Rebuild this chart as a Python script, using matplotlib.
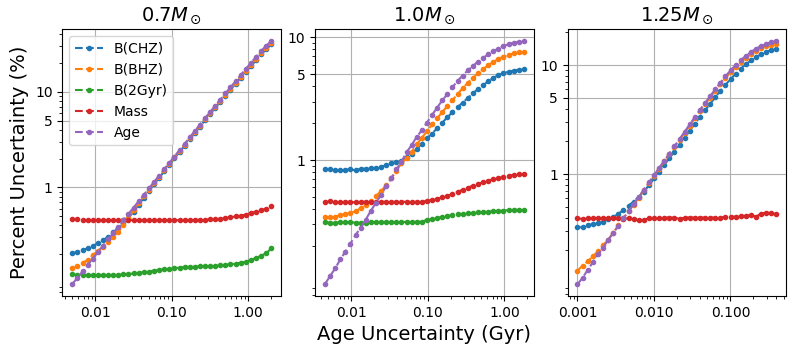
import matplotlib
matplotlib.use('Agg')
import matplotlib.pyplot as plt
from matplotlib.ticker import FixedLocator, FormatStrFormatter, NullFormatter

# ---------------- data ----------------
titles = [r'$0.7M_\odot$', r'$1.0M_\odot$', r'$1.25M_\odot$']
labels = ['B(CHZ)', 'B(BHZ)', 'B(2Gyr)', 'Mass', 'Age']
colors = ['#1f77b4', '#ff7f0e', '#2ca02c', '#d62728', '#9467bd']

# Panel 1 (0.7 Msun)
x1 = [0.005, 0.00583, 0.0068, 0.00793, 0.00925, 0.01078, 0.01257, 0.01466, 0.0171, 0.01994,
      0.02325, 0.02711, 0.03161, 0.03686, 0.04299, 0.05009, 0.05841, 0.06811, 0.07943, 0.09262,
      0.108, 0.126, 0.1469, 0.1713, 0.1997, 0.2329, 0.2716, 0.3167, 0.3693, 0.4306,
      0.5018, 0.5851, 0.6823, 0.7957, 0.9279, 1.082, 1.2617, 1.4713, 1.7157, 2.0]
chz1 = [0.204, 0.212, 0.221, 0.230, 0.245, 0.260, 0.281, 0.304, 0.338, 0.372,
        0.42, 0.48, 0.56, 0.66, 0.78, 0.92, 1.08, 1.26, 1.47, 1.72,
        2.01, 2.34, 2.73, 3.18, 3.71, 4.32, 5.03, 5.86, 6.8, 7.88,
        9.12, 10.55, 12.2, 14.1, 16.2, 18.6, 21.4, 24.6, 28.0, 31.3]
bhz1 = [0.142, 0.150, 0.163, 0.174, 0.196, 0.217, 0.239, 0.270, 0.304, 0.343,
        0.405, 0.48, 0.575, 0.685, 0.81, 0.95, 1.11, 1.30, 1.515, 1.765,
        2.06, 2.40, 2.80, 3.26, 3.80, 4.43, 5.16, 6.02, 6.98, 8.08,
        9.35, 10.8, 12.5, 14.45, 16.7, 19.2, 22.1, 25.4, 29.0, 32.6]
gyr1 = [0.124, 0.121, 0.121, 0.121, 0.121, 0.121, 0.121, 0.121, 0.122, 0.122,
        0.123, 0.124, 0.126, 0.128, 0.130, 0.132, 0.135, 0.137, 0.139, 0.141,
        0.143, 0.145, 0.147, 0.148, 0.148, 0.149, 0.149, 0.150, 0.151, 0.153,
        0.155, 0.157, 0.160, 0.163, 0.167, 0.174, 0.183, 0.193, 0.205, 0.230]
mass1 = [0.465, 0.462, 0.455, 0.455, 0.455, 0.456, 0.455, 0.455, 0.456, 0.455,
         0.455, 0.456, 0.455, 0.457, 0.455, 0.455, 0.457, 0.455, 0.455, 0.456,
         0.455, 0.455, 0.457, 0.456, 0.458, 0.458, 0.46, 0.462, 0.465, 0.47,
         0.478, 0.487, 0.497, 0.507, 0.52, 0.54, 0.56, 0.58, 0.60, 0.635]
age1 = [0.0975, 0.1137, 0.1326, 0.1546, 0.1803, 0.2102, 0.2452, 0.2859, 0.3334, 0.3888,
        0.4533, 0.5286, 0.6164, 0.7189, 0.8383, 0.9768, 1.139, 1.328, 1.549, 1.806,
        2.106, 2.456, 2.864, 3.34, 3.894, 4.541, 5.296, 6.175, 7.15, 8.30,
        9.62, 11.16, 12.95, 15.0, 17.4, 20.1, 23.2, 26.7, 30.5, 34.0]

# Panel 2 (1.0 Msun)
x2 = [0.0045, 0.005247, 0.006119, 0.007136, 0.008321, 0.009703, 0.011315, 0.013195, 0.015387, 0.017942,
      0.020923, 0.024399, 0.028452, 0.033178, 0.038689, 0.045081, 0.052565, 0.061299, 0.071487, 0.083358,
      0.097209, 0.11336, 0.13218, 0.15414, 0.17974, 0.2096, 0.24442, 0.28502, 0.33236, 0.38757,
      0.45162, 0.52659, 0.61407, 0.71609, 0.83507, 0.97376, 1.1355, 1.3241, 1.5441, 1.8]
chz2 = [0.845, 0.845, 0.825, 0.824, 0.835, 0.839, 0.825, 0.85, 0.852, 0.854,
        0.868, 0.885, 0.905, 0.945, 0.963, 0.99, 1.06, 1.13, 1.23, 1.36,
        1.50, 1.64, 1.82, 2.02, 2.23, 2.46, 2.70, 2.94, 3.2, 3.5,
        3.78, 4.07, 4.38, 4.67, 4.92, 5.1, 5.25, 5.36, 5.45, 5.48]
bhz2 = [0.341, 0.341, 0.345, 0.356, 0.363, 0.372, 0.384, 0.404, 0.43, 0.466,
        0.51, 0.56, 0.625, 0.71, 0.82, 0.94, 1.04, 1.17, 1.34, 1.52,
        1.72, 1.95, 2.19, 2.46, 2.76, 3.08, 3.45, 3.85, 4.26, 4.67,
        5.08, 5.5, 5.92, 6.3, 6.65, 6.95, 7.2, 7.4, 7.55, 7.6]
gyr2 = [0.312, 0.31, 0.308, 0.312, 0.312, 0.311, 0.31, 0.309, 0.308, 0.312,
        0.312, 0.312, 0.313, 0.312, 0.313, 0.313, 0.314, 0.314, 0.314, 0.315,
        0.326, 0.331, 0.337, 0.345, 0.351, 0.356, 0.361, 0.365, 0.369, 0.372,
        0.375, 0.378, 0.38, 0.383, 0.386, 0.388, 0.391, 0.393, 0.394, 0.394]
mass2 = [0.457, 0.46, 0.458, 0.452, 0.458, 0.457, 0.452, 0.457, 0.458, 0.455,
         0.456, 0.457, 0.457, 0.456, 0.458, 0.458, 0.457, 0.457, 0.457, 0.457,
         0.466, 0.474, 0.484, 0.497, 0.51, 0.53, 0.55, 0.575, 0.595, 0.62,
         0.64, 0.66, 0.68, 0.70, 0.715, 0.73, 0.745, 0.76, 0.765, 0.765]
age2 = [0.0976, 0.1134, 0.1309, 0.155, 0.179, 0.209, 0.245, 0.282, 0.328, 0.386,
        0.449, 0.519, 0.614, 0.709, 0.839, 0.97, 1.155, 1.325, 1.549, 1.75,
        2.02, 2.33, 2.68, 3.06, 3.45, 3.92, 4.42, 4.88, 5.37, 5.85,
        6.33, 6.8, 7.25, 7.7, 8.1, 8.5, 8.8, 9.05, 9.2, 9.25]

# Panel 3 (1.25 Msun) -- no B(2Gyr) curve
x3 = [0.001, 0.0011661, 0.0013598, 0.0015857, 0.0018491, 0.0021563, 0.0025145, 0.0029322, 0.0034193, 0.0039872,
      0.0046496, 0.0054219, 0.0063226, 0.0073729, 0.0085975, 0.010018, 0.011681, 0.013622, 0.015886, 0.018524,
      0.021602, 0.02519, 0.029374, 0.034253, 0.039943, 0.046578, 0.054315, 0.063337, 0.073858, 0.086127,
      0.10036, 0.11702, 0.13646, 0.15913, 0.18557, 0.21639, 0.25233, 0.29425, 0.34313, 0.4]
chz3 = [0.325, 0.326, 0.34, 0.347, 0.357, 0.366, 0.385, 0.405, 0.435, 0.465,
        0.515, 0.56, 0.62, 0.69, 0.79, 0.915, 1.055, 1.215, 1.40, 1.61,
        1.86, 2.16, 2.50, 2.9, 3.36, 3.85, 4.42, 5.07, 5.8, 6.6,
        7.45, 8.35, 9.3, 10.2, 11.05, 11.85, 12.6, 13.25, 13.8, 14.2]
bhz3 = [0.130, 0.145, 0.158, 0.176, 0.196, 0.222, 0.25, 0.29, 0.338, 0.395,
        0.455, 0.525, 0.61, 0.71, 0.83, 0.965, 1.12, 1.31, 1.52, 1.77,
        2.06, 2.40, 2.79, 3.25, 3.78, 4.37, 5.04, 5.8, 6.65, 7.6,
        8.6, 9.6, 10.65, 11.65, 12.6, 13.5, 14.25, 14.95, 15.45, 15.8]
mass3 = [0.394, 0.388, 0.394, 0.394, 0.394, 0.394, 0.394, 0.40, 0.394, 0.388,
         0.394, 0.388, 0.378, 0.38, 0.394, 0.394, 0.394, 0.40, 0.40, 0.40,
         0.388, 0.40, 0.40, 0.40, 0.40, 0.40, 0.40, 0.40, 0.40, 0.405,
         0.405, 0.408, 0.414, 0.414, 0.422, 0.408, 0.435, 0.443, 0.44, 0.427]
age3 = [0.0973, 0.112, 0.132, 0.155, 0.184, 0.212, 0.248, 0.288, 0.335, 0.392,
        0.455, 0.53, 0.62, 0.72, 0.84, 0.975, 1.14, 1.33, 1.545, 1.8,
        2.1, 2.45, 2.86, 3.34, 3.89, 4.5, 5.2, 6.0, 6.9, 7.9,
        8.95, 10.0, 11.1, 12.2, 13.2, 14.2, 15.0, 15.7, 16.3, 16.7]

ylims = [(0.073, 45), (0.078, 11.6), (0.076, 21.3)]
xfmts = ['%.2f', '%.2f', '%.3f']
ymajor = [1, 5, 10]

# ---------------- plot ----------------
fig, axes = plt.subplots(1, 3, figsize=(8, 3.5), dpi=100)
fig.subplots_adjust(left=0.078, right=0.983, top=0.916, bottom=0.154, wspace=0.154)

panel_series = [
    (x1, [chz1, bhz1, gyr1, mass1, age1]),
    (x2, [chz2, bhz2, gyr2, mass2, age2]),
    (x3, [chz3, bhz3, None, mass3, age3]),
]

for k, (ax, (x, series)) in enumerate(zip(axes, panel_series)):
    for s, lab, col in zip(series, labels, colors):
        if s is None:
            continue
        ax.plot(x, s, linestyle='--', marker='.', color=col, label=lab)
    ax.set_xscale('log')
    ax.set_yscale('log')
    ax.set_ylim(*ylims[k])
    ax.yaxis.set_major_locator(FixedLocator(ymajor))
    ax.yaxis.set_major_formatter(FormatStrFormatter('%g'))
    ax.yaxis.set_minor_formatter(NullFormatter())
    ax.xaxis.set_major_formatter(FormatStrFormatter(xfmts[k]))
    ax.xaxis.set_minor_formatter(NullFormatter())
    ax.grid(True)
    ax.tick_params(labelsize=10)
    ax.set_title(titles[k], fontsize=14)

axes[0].set_ylabel('Percent Uncertainty (%)', fontsize=14)
axes[1].set_xlabel('Age Uncertainty (Gyr)', fontsize=14)
axes[0].legend(loc='upper left', fontsize=10)

fig.savefig('out.png', dpi=100)
